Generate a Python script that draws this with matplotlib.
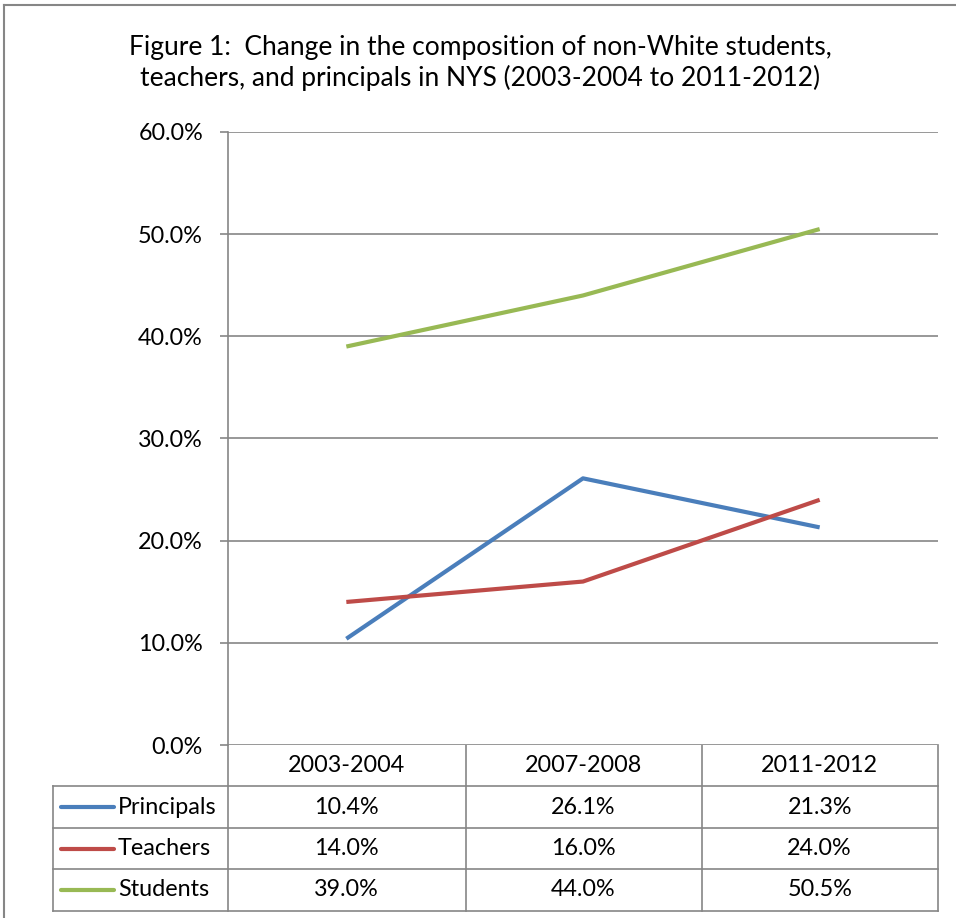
import matplotlib
matplotlib.use("Agg")
import matplotlib.pyplot as plt
import matplotlib.transforms as mtransforms

plt.rcParams['font.family'] = ['Lato', 'DejaVu Sans']

categories = ["2003-2004", "2007-2008", "2011-2012"]
series_names = ["Principals", "Teachers", "Students"]
principals = [10.4, 26.1, 21.3]
teachers = [14.0, 16.0, 24.0]
students = [39.0, 44.0, 50.5]
series_values = [principals, teachers, students]
colors = ["#4A7EBB", "#BE4B48", "#98B954"]
yticks = [0, 10, 20, 30, 40, 50, 60]
title = "Figure 1:  Change in the composition of non-White students,\nteachers, and principals in NYS (2003-2004 to 2011-2012)"

W, H = 956, 918
fig = plt.figure(figsize=(W / 100, H / 100), dpi=100)

def px_rect(x0, y0, x1, y1):
    return [x0 / W, 1 - y1 / H, (x1 - x0) / W, (y1 - y0) / H]

grid_c = "#868686"
fs = 16.8

# overlay axes in pixel coords
ov = fig.add_axes([0, 0, 1, 1])
ov.set_xlim(0, W)
ov.set_ylim(H, 0)
ov.axis("off")

ax = fig.add_axes(px_rect(228, 132, 938, 745))
x = list(range(len(categories)))
for vals, c, n in zip(series_values, colors, series_names):
    ax.plot(x, vals, color=c, lw=3.0, solid_capstyle="butt", label=n, zorder=3)
ax.set_xlim(-0.5, len(categories) - 0.5)
ax.set_ylim(0, 60)
ax.set_yticks(yticks)
ax.set_yticklabels([f"{v:.1f}%" for v in yticks], fontsize=fs)
ax.yaxis.grid(True, color=grid_c, lw=1.2)
ax.set_xticks([])
for s in ["top", "right", "bottom"]:
    ax.spines[s].set_visible(False)
ax.spines["left"].set_color(grid_c)
ax.spines["left"].set_linewidth(1.2)
ax.tick_params(axis="y", length=6, width=1.2, color=grid_c, pad=12)
ax.set_axisbelow(True)

# title
ov.text(480, 63, title, ha="center", va="center", fontsize=19, linespacing=1.25)

# outer border
ov.plot([4, 4], [5, H], color=grid_c, lw=1.5)
ov.plot([4, W], [5, 5], color=grid_c, lw=1.5)

# data table
row_edges = [745, 786, 828, 869, 911]
col_edges = [228, 466, 702, 938]
left_x = 53
lw_t = 1.2
for y in row_edges[1:]:
    ov.plot([left_x, 938], [y, y], color=grid_c, lw=lw_t)
ov.plot([left_x, left_x], [row_edges[1], row_edges[-1]], color=grid_c, lw=lw_t)
for cx in col_edges:
    ov.plot([cx, cx], [row_edges[0], row_edges[-1]], color=grid_c, lw=lw_t)

blend = mtransforms.blended_transform_factory(ax.transData, ov.transData)
hy = (row_edges[0] + row_edges[1]) / 2
for i, cat in enumerate(categories):
    ov.text(i, hy, cat, transform=blend, ha="center", va="center", fontsize=fs)
for r, (n, vals, c) in enumerate(zip(series_names, series_values, colors)):
    cy = (row_edges[r + 1] + row_edges[r + 2]) / 2
    ov.plot([61, 114], [cy, cy], color=c, lw=3.0, solid_capstyle="round")
    ov.text(118, cy, n, ha="left", va="center", fontsize=fs)
    for i, v in enumerate(vals):
        ov.text(i, cy, f"{v:.1f}%", transform=blend, ha="center", va="center", fontsize=fs)

fig.savefig("out.png", dpi=100)
